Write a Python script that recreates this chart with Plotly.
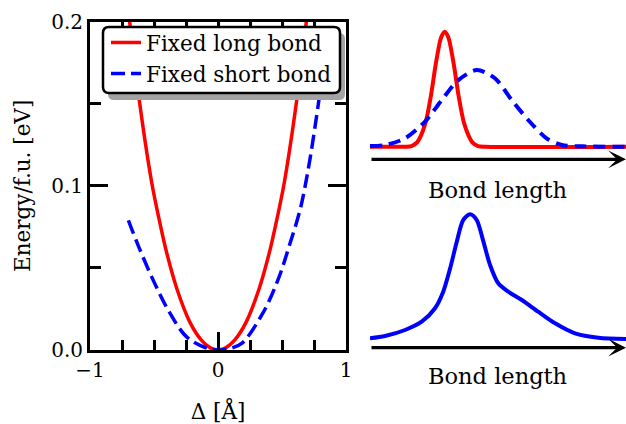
import plotly.graph_objects as go

W, H = 626, 424

# ---------------- data ----------------
# Left panel: energy vs displacement
long_x = [-0.72, -0.69, -0.62, -0.52, -0.45, -0.40, -0.32, -0.22, -0.13, -0.06, 0.0,
          0.06, 0.13, 0.22, 0.32, 0.40, 0.45, 0.52, 0.62, 0.69, 0.72]
long_e = [0.221, 0.200, 0.155, 0.103, 0.076, 0.059, 0.037, 0.017, 0.006, 0.0013, 0.0,
          0.0013, 0.006, 0.017, 0.037, 0.059, 0.076, 0.103, 0.155, 0.200, 0.221]
short_x = [-0.70, -0.62, -0.50, -0.375, -0.245, -0.10, 0.0, 0.10, 0.185, 0.35,
           0.47, 0.555, 0.64, 0.68, 0.72, 0.76, 0.80, 0.83]
short_e = [0.079, 0.063, 0.0415, 0.0224, 0.008, 0.0015, 0.0, 0.001, 0.004, 0.0224,
           0.043, 0.063, 0.085, 0.0995, 0.117, 0.137, 0.159, 0.177]

# Right-top panel: bond-length distributions (arbitrary units)
long_dist_x = [0, 1.4, 1.62, 1.85, 2.16, 2.37, 2.57, 2.75, 2.84, 2.92, 3.00, 3.09, 3.27,
               3.47, 3.68, 3.99, 4.22, 4.5, 10]
long_dist_y = [0, 0, 0.006, 0.04, 0.2, 0.43, 0.72, 0.93, 0.98, 1.0, 0.98, 0.93, 0.72,
               0.43, 0.2, 0.04, 0.006, 0, 0]
short_dist_x = [0, 0.59, 1.37, 2.15, 2.80, 3.45, 4.17, 4.88, 5.54, 6.18, 6.90,
                7.49, 8.3, 10]
short_dist_y = [0.006, 0.015, 0.073, 0.218, 0.405, 0.579, 0.667, 0.595, 0.405,
                0.232, 0.073, 0.015, 0.003, 0.0]

# Right-bottom panel: combined distribution
joint_x = [0, 0.59, 1.37, 2.02, 2.54, 2.86, 3.13, 3.39, 3.64, 3.91, 4.17, 4.43,
           4.69, 5.01, 5.40, 5.93, 6.57, 7.23, 8.01, 8.92, 10]
joint_y = [0.082, 0.102, 0.154, 0.226, 0.343, 0.487, 0.690, 0.922, 1.110, 1.160,
           1.110, 0.922, 0.719, 0.560, 0.487, 0.415, 0.313, 0.212, 0.125, 0.087,
           0.076]

x_ticks = [-1, 0, 1]
x_tick_text = ["\u22121", "0", "1"]
y_ticks = [0.0, 0.1, 0.2]
y_tick_text = ["0.0", "0.1", "0.2"]

series_names = ["Fixed long bond", "Fixed short bond"]
xlabel = "\u0394 [\u00c5]"
ylabel = "Energy/f.u. [eV]"
dist_label = "Bond length"

RED = "#ff0000"
BLUE = "#0000ff"
FONT = "DejaVu Serif"


def px(x):
    return x / W


def py(y):
    return 1 - y / H


fig = go.Figure()

fig.add_trace(go.Scatter(x=long_x, y=long_e, mode="lines", name=series_names[0],
                         line=dict(color=RED, width=3.5, shape="spline", smoothing=1.0),
                         xaxis="x", yaxis="y"))
fig.add_trace(go.Scatter(x=short_x, y=short_e, mode="lines", name=series_names[1],
                         line=dict(color=BLUE, width=3.5, dash="14px,6px",
                                   shape="spline", smoothing=1.0),
                         xaxis="x", yaxis="y"))

fig.add_trace(go.Scatter(x=long_dist_x, y=long_dist_y, mode="lines", showlegend=False,
                         line=dict(color=RED, width=4, shape="spline", smoothing=0.7),
                         xaxis="x2", yaxis="y2"))
fig.add_trace(go.Scatter(x=short_dist_x, y=short_dist_y, mode="lines", showlegend=False,
                         line=dict(color=BLUE, width=4, dash="12px,7px",
                                   shape="spline", smoothing=0.8),
                         xaxis="x2", yaxis="y2"))
fig.add_trace(go.Scatter(x=joint_x, y=joint_y, mode="lines", showlegend=False,
                         line=dict(color=BLUE, width=4, shape="spline", smoothing=0.8),
                         xaxis="x3", yaxis="y3"))

axis_common = dict(showline=True, linecolor="black", linewidth=3, mirror="ticks",
                   ticks="inside", tickcolor="black", tickwidth=3, ticklen=18,
                   showgrid=False, zeroline=False, automargin=False,
                   tickfont=dict(family=FONT, size=20, color="black"))
hidden = dict(visible=False, automargin=False, showgrid=False, zeroline=False)

fig.update_layout(
    template="none",
    width=W, height=H, autosize=False,
    margin=dict(l=0, r=0, t=0, b=0, pad=0),
    paper_bgcolor="white", plot_bgcolor="white",
    xaxis=dict(domain=[px(90), px(346)], range=[-1, 1], anchor="y",
               tickvals=x_ticks, ticktext=x_tick_text,
               minor=dict(dtick=0.25, tick0=0, ticks="inside", ticklen=10,
                          tickwidth=3, tickcolor="black"),
               title=dict(text=xlabel, font=dict(family=FONT, size=21.5, color="black"),
                          standoff=23),
               **axis_common),
    yaxis=dict(domain=[py(350), py(21.7)], range=[0, 0.2], anchor="x",
               tickvals=y_ticks, ticktext=y_tick_text,
               minor=dict(dtick=0.05, tick0=0, ticks="inside", ticklen=11,
                          tickwidth=3, tickcolor="black"),
               title=dict(text=ylabel, font=dict(family=FONT, size=21.5, color="black"),
                          standoff=15),
               **axis_common),
    xaxis2=dict(domain=[px(370), 1.0], range=[0, 10], anchor="y2", **hidden),
    yaxis2=dict(domain=[py(169.7), py(20.2)], range=[-0.2, 1.1], anchor="x2", **hidden),
    xaxis3=dict(domain=[px(370), 1.0], range=[0, 10], anchor="y3", **hidden),
    yaxis3=dict(domain=[py(370.7), py(209.7)], range=[-0.2, 1.2], anchor="x3", **hidden),
    legend=dict(x=px(106), y=py(22), xanchor="left", yanchor="top",
                bgcolor="rgba(0,0,0,0)", borderwidth=0,
                font=dict(family=FONT, size=21.5, color="black"),
                tracegroupgap=0),
    showlegend=True,
)


def rounded_rect(x0, y0, x1, y1, r):
    # pixel coordinates -> paper path with quadratic corners
    pts = [
        ("M", x0 + r, y0), ("L", x1 - r, y0), ("Q", x1, y0, x1, y0 + r),
        ("L", x1, y1 - r), ("Q", x1, y1, x1 - r, y1), ("L", x0 + r, y1),
        ("Q", x0, y1, x0, y1 - r), ("L", x0, y0 + r), ("Q", x0, y0, x0 + r, y0),
    ]
    s = ""
    for p in pts:
        if p[0] in ("M", "L"):
            s += f"{p[0]}{px(p[1]):.5f},{py(p[2]):.5f} "
        else:
            s += f"Q{px(p[1]):.5f},{py(p[2]):.5f} {px(p[3]):.5f},{py(p[4]):.5f} "
    return s + "Z"


# legend shadow and box
fig.add_shape(type="path", xref="paper", yref="paper", layer="above",
              path=rounded_rect(108, 33, 345, 100, 6),
              fillcolor="#a3a3a3", line=dict(width=0))
fig.add_shape(type="path", xref="paper", yref="paper", layer="above",
              path=rounded_rect(103, 27, 340, 93, 6),
              fillcolor="white", line=dict(color="black", width=2.5))

# arrows (bond-length axes)
for xr, yr, yv in (("x2", "y2", -0.11), ("x3", "y3", 0.0)):
    fig.add_annotation(x=10, y=yv, ax=0, ay=yv, xref=xr, yref=yr, axref=xr, ayref=yr,
                       text="", showarrow=True, arrowhead=3, arrowsize=0.9,
                       arrowwidth=3.3, arrowcolor="black", standoff=0)

# bond length labels
for yc in (190, 375.5):
    fig.add_annotation(x=px(497.5), y=py(yc), xref="paper", yref="paper",
                       text=dist_label, showarrow=False, xanchor="center",
                       yanchor="middle",
                       font=dict(family=FONT, size=22.5, color="black"))

fig.write_html("out.html")
